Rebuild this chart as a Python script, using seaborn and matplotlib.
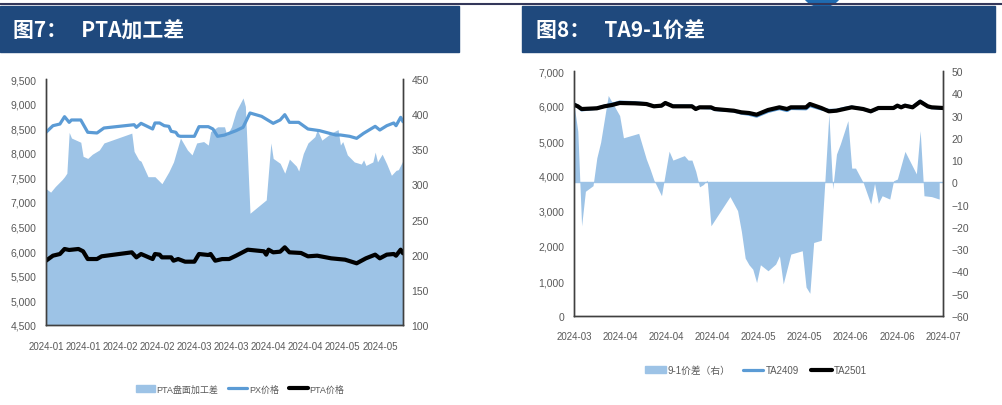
"""
PTA加工差 och TA9-1价差, två paneler
"""

import pandas as pd
import matplotlib
matplotlib.use("Agg")
import matplotlib.pyplot as plt
import seaborn as sns
from matplotlib import font_manager
from matplotlib.patches import Rectangle, Ellipse, Patch
from matplotlib.lines import Line2D
from matplotlib.ticker import FuncFormatter, MultipleLocator

sns.set_theme(style="white")
names = {f.name for f in font_manager.fontManager.ttflist}
num_font = "Liberation Sans Narrow" if "Liberation Sans Narrow" in names else "Liberation Sans"
plt.rcParams["font.family"] = [num_font, "Noto Sans CJK SC", "DejaVu Sans"]

# ---- 图7 data ----
px_dates = ["2024-01-02", "2024-01-05", "2024-01-08", "2024-01-10", "2024-01-12", "2024-01-13",
            "2024-01-17", "2024-01-20", "2024-01-24", "2024-01-27", "2024-02-09", "2024-02-10",
            "2024-02-12", "2024-02-17", "2024-02-18", "2024-02-20", "2024-02-22", "2024-02-24",
            "2024-02-25", "2024-02-27", "2024-02-28", "2024-02-29", "2024-03-06", "2024-03-08",
            "2024-03-12", "2024-03-14", "2024-03-16", "2024-03-19", "2024-03-24", "2024-03-27",
            "2024-03-30", "2024-04-04", "2024-04-09", "2024-04-12", "2024-04-14", "2024-04-16",
            "2024-04-20", "2024-04-24", "2024-04-29", "2024-05-06", "2024-05-08", "2024-05-12",
            "2024-05-15", "2024-05-18", "2024-05-23", "2024-05-25", "2024-05-28", "2024-05-31",
            "2024-06-01", "2024-06-03", "2024-06-04"]
px_price = [8417, 8551, 8585, 8734, 8619, 8667, 8667, 8417, 8403, 8504, 8571, 8518,
            8599, 8484, 8606, 8606, 8551, 8538, 8437, 8417, 8348, 8335, 8335, 8531,
            8531, 8484, 8335, 8360, 8450, 8518, 8809, 8741, 8599, 8667, 8775, 8619,
            8619, 8484, 8450, 8362, 8362, 8335, 8294, 8396, 8538, 8463, 8551, 8606,
            8551, 8721, 8632]

pta_dates = ["2024-01-02", "2024-01-05", "2024-01-08", "2024-01-10", "2024-01-12", "2024-01-16",
             "2024-01-18", "2024-01-20", "2024-01-24", "2024-01-26", "2024-02-08", "2024-02-10",
             "2024-02-12", "2024-02-17", "2024-02-18", "2024-02-20", "2024-02-21", "2024-02-25",
             "2024-02-26", "2024-02-28", "2024-03-02", "2024-03-06", "2024-03-08", "2024-03-12",
             "2024-03-13", "2024-03-15", "2024-03-18", "2024-03-21", "2024-03-24", "2024-03-29",
             "2024-04-05", "2024-04-06", "2024-04-07", "2024-04-09", "2024-04-12", "2024-04-14",
             "2024-04-16", "2024-04-21", "2024-04-24", "2024-04-28", "2024-05-04", "2024-05-10",
             "2024-05-15", "2024-05-19", "2024-05-23", "2024-05-25", "2024-05-28", "2024-05-31",
             "2024-06-01", "2024-06-03", "2024-06-04"]
pta_price = [5807, 5909, 5943, 6045, 6025, 6045, 5998, 5841, 5841, 5896, 5977, 5875,
             5943, 5841, 5943, 5930, 5875, 5875, 5807, 5841, 5787, 5787, 5943, 5923,
             5943, 5807, 5840, 5841, 5909, 6031, 5998, 5930, 6031, 5977, 5990, 6079,
             5977, 5964, 5896, 5909, 5855, 5828, 5754, 5855, 5930, 5855, 5930, 5943,
             5909, 6031, 5957]

margin_dates = ["2024-01-02", "2024-01-04", "2024-01-06", "2024-01-09", "2024-01-10", "2024-01-11",
                "2024-01-12", "2024-01-13", "2024-01-17", "2024-01-18", "2024-01-20", "2024-01-22",
                "2024-01-25", "2024-01-27", "2024-02-08", "2024-02-09", "2024-02-11", "2024-02-12",
                "2024-02-15", "2024-02-18", "2024-02-21", "2024-02-24", "2024-02-26", "2024-02-29",
                "2024-03-03", "2024-03-05", "2024-03-07", "2024-03-10", "2024-03-12", "2024-03-13",
                "2024-03-16", "2024-03-19", "2024-03-20", "2024-03-22", "2024-03-24", "2024-03-27",
                "2024-03-28", "2024-03-30", "2024-04-06", "2024-04-08", "2024-04-09", "2024-04-12",
                "2024-04-14", "2024-04-16", "2024-04-19", "2024-04-20", "2024-04-22", "2024-04-24",
                "2024-04-27", "2024-04-28", "2024-04-30", "2024-05-04", "2024-05-07", "2024-05-08",
                "2024-05-09", "2024-05-11", "2024-05-14", "2024-05-17", "2024-05-18", "2024-05-19",
                "2024-05-22", "2024-05-23", "2024-05-24", "2024-05-26", "2024-05-28", "2024-05-30",
                "2024-06-01", "2024-06-02", "2024-06-04"]
pta_margin = [294, 289, 297, 307, 311, 316, 374, 366, 360, 340, 337, 343,
              349, 359, 373, 347, 335, 333, 311, 311, 301, 318, 332, 366,
              349, 342, 359, 361, 356, 375, 382, 382, 370, 382, 404, 423,
              411, 259, 278, 359, 337, 330, 316, 336, 326, 319, 344, 359,
              368, 378, 363, 373, 378, 356, 361, 342, 332, 329, 335, 327,
              332, 346, 332, 343, 329, 313, 320, 321, 334]

left_ticklabels = ["2024-01", "2024-01", "2024-02", "2024-02", "2024-03",
                   "2024-03", "2024-04", "2024-04", "2024-05", "2024-05"]

# ---- 图8 data ----
spread_dates = ["2024-03-28", "2024-03-29", "2024-03-30", "2024-03-31",
                "2024-04-02", "2024-04-03", "2024-04-04", "2024-04-06", "2024-04-09", "2024-04-10",
                "2024-04-14", "2024-04-16", "2024-04-17", "2024-04-18", "2024-04-20", "2024-04-22",
                "2024-04-23", "2024-04-26", "2024-04-27", "2024-04-28", "2024-04-29", "2024-04-30",
                "2024-05-01", "2024-05-02", "2024-05-03", "2024-05-08", "2024-05-10", "2024-05-11",
                "2024-05-12", "2024-05-13", "2024-05-14", "2024-05-15", "2024-05-16", "2024-05-18",
                "2024-05-20", "2024-05-21", "2024-05-22", "2024-05-24", "2024-05-27", "2024-05-28",
                "2024-05-29", "2024-05-30",
                "2024-06-01", "2024-06-02", "2024-06-03", "2024-06-04", "2024-06-05", "2024-06-06",
                "2024-06-08", "2024-06-09", "2024-06-10", "2024-06-12", "2024-06-14", "2024-06-15",
                "2024-06-16", "2024-06-17", "2024-06-19", "2024-06-20", "2024-06-21", "2024-06-23",
                "2024-06-26", "2024-06-27", "2024-06-28", "2024-06-30", "2024-07-02"]
spread_91 = [35, 23, -19.5, -4,
             -1.5, 11, 18, 39, 30, 20, 22, 10.5, 6, 1, -6, 14, 10, 12, 10, 10, 5, -2,
             -1, 1, -19.5, -6.4, -12.7, -22, -34, -37, -39, -45, -37, -39.7, -36.7, -33,
             -45.6, -32.2, -30.7, -47, -49.8, -27,
             -26, 2, 30.7, -3, 12.7, 17.2, 27.7, 6.4, 6.4, 0, -9.7, -0.5, -9.4, -6, -7.5,
             0.7, 1.5, 13.9, 3.8, 23.2, -6, -6.4, -7.5]

ta_dates = ["2024-03-28", "2024-03-29", "2024-03-30", "2024-04-03", "2024-04-05", "2024-04-07",
            "2024-04-09", "2024-04-13", "2024-04-16", "2024-04-18", "2024-04-20", "2024-04-21",
            "2024-04-23", "2024-04-28", "2024-04-29", "2024-04-30", "2024-05-03", "2024-05-04",
            "2024-05-09", "2024-05-11", "2024-05-13", "2024-05-15", "2024-05-18", "2024-05-21",
            "2024-05-23", "2024-05-24", "2024-05-28", "2024-05-29", "2024-06-01", "2024-06-03",
            "2024-06-05", "2024-06-07", "2024-06-09", "2024-06-12", "2024-06-14", "2024-06-16",
            "2024-06-20", "2024-06-21", "2024-06-22", "2024-06-23", "2024-06-25", "2024-06-27",
            "2024-06-29", "2024-06-30", "2024-07-03"]
ta2409 = [6060, 5990, 5890, 5935, 5995, 6050, 6110, 6095, 6065, 5990, 6005, 6090,
          6000, 6000, 5915, 5960, 5945, 5900, 5860, 5795, 5765, 5710, 5845, 5925,
          5870, 5930, 5920, 6010, 5915, 5875, 5875, 5930, 5970, 5915, 5840, 5935,
          5945, 6010, 5970, 6020, 5965, 6140, 5985, 5955, 5935]
ta2501 = [6037, 5991, 5914, 5934, 5991, 6029, 6086, 6076, 6057, 5991, 6010, 6086,
          5991, 5991, 5914, 5962, 5962, 5914, 5866, 5819, 5800, 5752, 5886, 5962,
          5914, 5962, 5962, 6057, 5943, 5848, 5866, 5914, 5962, 5914, 5848, 5943,
          5943, 6010, 5962, 6010, 5962, 6124, 5991, 5962, 5943]

right_ticklabels = ["2024-03", "2024-04", "2024-04", "2024-04", "2024-05",
                    "2024-05", "2024-06", "2024-06", "2024-07"]

AREA = "#9DC3E6"
BLUE = "#5B9BD5"
HEADER = "#1F497D"
GREY = "#595959"
SPINE = "#404040"

W, H = 1003, 406


def box(x0, y0, x1, y1):
    return [x0 / W, 1 - y1 / H, (x1 - x0) / W, (y1 - y0) / H]


def style(ax, axr, xpad):
    for a in (ax, axr):
        a.spines["top"].set_visible(False)
        for s in ("left", "right", "bottom"):
            a.spines[s].set_color(SPINE)
            a.spines[s].set_linewidth(1)
        a.grid(False)
        a.set_xlabel("")
        a.set_ylabel("")
    ax.tick_params(axis="x", length=0, labelsize=7, labelcolor=GREY, pad=xpad)
    ax.tick_params(axis="y", length=0, labelsize=7.5, labelcolor=GREY, pad=7)
    axr.tick_params(axis="y", length=0, labelsize=7.5, labelcolor=GREY, pad=6)
    ax.set_zorder(axr.get_zorder() + 1)
    ax.patch.set_visible(False)


fig = plt.figure(figsize=(W / 100, H / 100), dpi=100)
fig.patch.set_facecolor("white")

# rubrikband
fig.add_artist(Line2D([0, 1], [1 - 5 / H] * 2, transform=fig.transFigure, color="#33375A", lw=1.5))
fig.add_artist(Ellipse((822 / W, 1 + 14 / H), 44 / W, 44 / H, transform=fig.transFigure, color="#1F6BB0"))
fig.add_artist(Rectangle((0, 1 - 52.5 / H), 459 / W, 46 / H, transform=fig.transFigure, color=HEADER))
fig.add_artist(Rectangle((522 / W, 1 - 53 / H), 473 / W, 46.5 / H, transform=fig.transFigure, color=HEADER))
fig.text(13 / W, 1 - 31 / H, "图7：   PTA加工差", color="white", fontsize=15, fontweight="bold",
         family=["Noto Sans CJK SC", "DejaVu Sans"], va="center")
fig.text(536 / W, 1 - 31 / H, "图8：   TA9-1价差", color="white", fontsize=15, fontweight="bold",
         family=["Noto Sans CJK SC", "DejaVu Sans"], va="center")

# ---- 图7 ----
ax1 = fig.add_axes(box(46, 80, 403, 326))
ax1r = ax1.twinx()
ax1r.fill_between(pd.to_datetime(margin_dates), pta_margin, 100, color=AREA, lw=0)
sns.lineplot(x=pd.to_datetime(px_dates), y=px_price, ax=ax1, color=BLUE, linewidth=2.3)
sns.lineplot(x=pd.to_datetime(pta_dates), y=pta_price, ax=ax1, color="black", linewidth=3)
ax1.set_ylim(4500, 9500)
ax1.yaxis.set_major_locator(MultipleLocator(500))
ax1.yaxis.set_major_formatter(FuncFormatter(lambda v, p: f"{v:,.0f}"))
ax1r.set_ylim(100, 450)
ax1r.yaxis.set_major_locator(MultipleLocator(50))
ax1.set_xlim(pd.Timestamp("2024-01-02"), pd.Timestamp("2024-06-04"))
ax1.set_xticks(pd.date_range("2024-01-02", periods=len(left_ticklabels), freq="16D"))
ax1.set_xticklabels(left_ticklabels)
style(ax1, ax1r, 11.5)

fig.legend([Patch(color=AREA), Line2D([], [], color=BLUE, lw=2.3), Line2D([], [], color="black", lw=3)],
           ["PTA盘面加工差", "PX价格", "PTA价格"], loc="center", bbox_to_anchor=(240 / W, 1 - 390 / H),
           ncol=3, frameon=False, fontsize=6.5, labelcolor=GREY, handlelength=2.1, handletextpad=0.2,
           columnspacing=1.1)

# ---- 图8 ----
ax2 = fig.add_axes(box(574, 72, 943, 317))
ax2r = ax2.twinx()
ax2r.fill_between(pd.to_datetime(spread_dates), spread_91, 0, color=AREA, lw=0)
ax2r.axhline(0, color=AREA, lw=1)
sns.lineplot(x=pd.to_datetime(ta_dates), y=ta2409, ax=ax2, color=BLUE, linewidth=2.3)
sns.lineplot(x=pd.to_datetime(ta_dates), y=ta2501, ax=ax2, color="black", linewidth=3)
ax2.set_ylim(0, 7000)
ax2.yaxis.set_major_locator(MultipleLocator(1000))
ax2.yaxis.set_major_formatter(FuncFormatter(lambda v, p: f"{v:,.0f}"))
ax2r.set_ylim(-60, 50)
ax2r.yaxis.set_major_locator(MultipleLocator(10))
ax2.set_xlim(pd.Timestamp("2024-03-28"), pd.Timestamp("2024-07-03"))
ax2.set_xticks(pd.date_range("2024-03-28", "2024-07-03", periods=len(right_ticklabels)))
ax2.set_xticklabels(right_ticklabels)
style(ax2, ax2r, 11)

fig.legend([Patch(color=AREA), Line2D([], [], color=BLUE, lw=2.3), Line2D([], [], color="black", lw=3)],
           ["9-1价差（右）", "TA2409", "TA2501"], loc="center", bbox_to_anchor=(756 / W, 1 - 371 / H),
           ncol=3, frameon=False, fontsize=7, labelcolor=GREY, handlelength=2.1, handletextpad=0.2,
           columnspacing=1.3)

fig.savefig("out.png", dpi=100)
